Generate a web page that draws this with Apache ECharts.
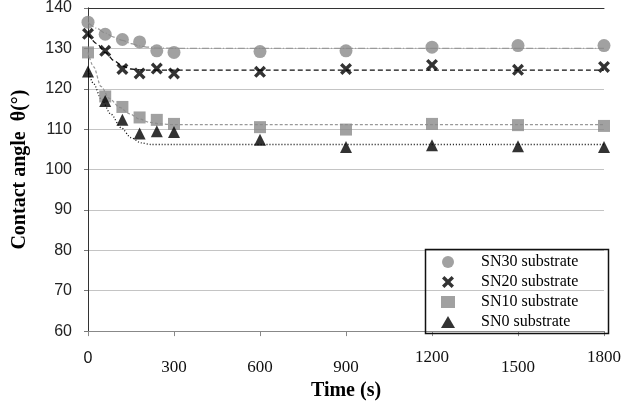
<!DOCTYPE html>
<html>
<head>
<meta charset="utf-8">
<script src="https://cdn.jsdelivr.net/npm/echarts@6/dist/echarts.min.js"></script>
<style>
html,body{margin:0;padding:0;background:#fff;}
#chart{width:624px;height:406px;}
</style>
</head>
<body>
<div id="chart"></div>
<script>
// Measured data (time in s, contact angle in degrees)
const times = [0, 60, 120, 180, 240, 300, 600, 900, 1200, 1500, 1800];
const sn30 = [136.5, 133.5, 132.2, 131.6, 129.4, 129.0, 129.2, 129.4, 130.3, 130.7, 130.7];
const sn20 = [133.6, 129.4, 124.9, 123.8, 125.0, 123.8, 124.2, 124.9, 125.9, 124.7, 125.4];
const sn10 = [129.0, 118.1, 115.5, 112.9, 112.3, 111.3, 110.5, 109.9, 111.3, 111.0, 110.8];
const sn0  = [124.3, 117.0, 112.3, 108.9, 109.5, 109.3, 107.4, 105.6, 106.0, 105.8, 105.6];

// Trend (fit) curves
const sn30TrendT = [0, 30, 60, 90, 120, 150, 180, 210, 240, 300, 1800];
const sn30Trend  = [136.4, 135.0, 133.8, 132.8, 132.0, 131.2, 130.6, 130.3, 130.1, 130.0, 130.0];
const sn20TrendT = [0, 30, 60, 90, 120, 150, 180, 210, 300, 1800];
const sn20Trend  = [133.6, 131.2, 129.0, 127.0, 125.6, 124.9, 124.7, 124.6, 124.6, 124.6];
const sn10TrendT = [0, 20, 45, 75, 110, 145, 180, 215, 250, 300, 1800];
const sn10Trend  = [129.0, 125.4, 120.6, 117.6, 115.4, 113.8, 112.5, 111.7, 111.3, 111.1, 111.1];
const sn0TrendT  = [0, 20, 45, 80, 115, 150, 185, 220, 260, 300, 1800];
const sn0Trend   = [124.5, 121.2, 117.6, 113.7, 110.4, 107.9, 106.6, 106.2, 106.2, 106.2, 106.2];

const seriesNames = ['SN30 substrate', 'SN20 substrate', 'SN10 substrate', 'SN0 substrate'];
const xTicks = [0, 300, 600, 900, 1200, 1500, 1800];
const yTicks = [60, 70, 80, 90, 100, 110, 120, 130, 140];

const pair = (xs, ys) => xs.map((x, i) => [x, ys[i]]);
const crossPath = 'path://M2,0 L5,3 L8,0 L10,2 L7,5 L10,8 L8,10 L5,7 L2,10 L0,8 L3,5 L0,2 Z';

const chart = echarts.init(document.getElementById('chart'), null, {renderer: 'canvas'});

function trend(data, color, dash, width) {
  return {
    type: 'line', data: data, showSymbol: false, symbol: 'none',
    smooth: 0.3, smoothMonotone: 'x', silent: true, z: 1,
    lineStyle: {color: color, type: dash, width: width}
  };
}

chart.setOption({
  animation: false,
  backgroundColor: '#fff',
  grid: {left: 88, right: 16, top: 6, bottom: 72},
  xAxis: [{
    type: 'value', min: xTicks[0], max: xTicks[xTicks.length - 1], interval: 300,
    name: 'Time (s)', nameLocation: 'middle', nameGap: 44,
    nameTextStyle: {fontFamily: 'Liberation Serif', fontWeight: 'bold', fontSize: 20, color: '#000'},
    axisLine: {lineStyle: {color: '#888', width: 1}},
    axisTick: {show: true, length: 5, lineStyle: {color: '#888'}},
    splitLine: {show: false},
    axisLabel: {
      margin: 10,
      formatter: function (v) {
        if (v === 0) return '{a|0}';
        if (v === 1200 || v === 1800) return '{c|' + v + '}';
        return '{b|' + v + '}';
      },
      rich: {
        a: {fontFamily: 'Liberation Sans', fontSize: 16, color: '#111', padding: [9, 0, 0, 0]},
        b: {fontFamily: 'Liberation Serif', fontSize: 17, color: '#111', padding: [18, 0, 0, 0]},
        c: {fontFamily: 'Liberation Serif', fontSize: 17, color: '#111', padding: [8, 0, 0, 0]}
      }
    }
  }, {
    type: 'value', position: 'top', min: 0, max: 1800,
    axisLine: {show: true, lineStyle: {color: '#333', width: 1}},
    axisTick: {show: false}, axisLabel: {show: false}, splitLine: {show: false}
  }],
  yAxis: [{
    type: 'value', min: yTicks[0], max: yTicks[yTicks.length - 1], interval: 10,
    name: 'Contact angle  θ(°)', nameLocation: 'middle', nameGap: 58,
    nameTextStyle: {fontFamily: 'Liberation Serif', fontWeight: 'bold', fontSize: 20, color: '#000'},
    axisLine: {show: true, lineStyle: {color: '#777', width: 1}},
    axisTick: {show: true, length: 4, lineStyle: {color: '#777'}},
    splitLine: {show: true, lineStyle: {color: '#c4c4c4', width: 1}},
    axisLabel: {margin: 16, fontFamily: 'Liberation Sans', fontSize: 16, color: '#222'}
  }, {
    type: 'value', position: 'right', min: 60, max: 140,
    axisLine: {show: true, lineStyle: {color: '#333', width: 1}},
    axisTick: {show: false}, axisLabel: {show: false}, splitLine: {show: false}
  }],
  legend: {
    orient: 'vertical', left: 441, top: 254,
    itemWidth: 14, itemHeight: 12, itemGap: 4, padding: 0,
    data: seriesNames,
    formatter: function (name) { return '{t|' + name + '}'; },
    textStyle: {
      fontFamily: 'Liberation Serif', fontSize: 16, color: '#000',
      rich: {t: {fontFamily: 'Liberation Serif', fontSize: 16, color: '#000', padding: [0, 0, 0, 21]}}
    }
  },
  graphic: [{
    type: 'rect', left: 423, top: 247, z: 100,
    shape: {width: 183, height: 84},
    style: {fill: 'none', stroke: '#111', lineWidth: 1.5}
  }],
  series: [
    trend(pair(sn30TrendT, sn30Trend), '#9a9a9a', [7, 2, 1, 2], 1.2),
    trend(pair(sn20TrendT, sn20Trend), '#111', [5, 3], 1.3),
    trend(pair(sn10TrendT, sn10Trend), '#999', [3, 2], 1.2),
    trend(pair(sn0TrendT, sn0Trend), '#111', [1, 2], 1.3),
    {name: seriesNames[0], type: 'scatter', data: pair(times, sn30), symbol: 'circle', symbolSize: 13,
     itemStyle: {color: '#8a8a8a'}, z: 3},
    {name: seriesNames[1], type: 'scatter', data: pair(times, sn20), symbol: crossPath, symbolSize: 12,
     itemStyle: {color: '#000'}, z: 3},
    {name: seriesNames[2], type: 'scatter', data: pair(times, sn10), symbol: 'rect', symbolSize: 12,
     itemStyle: {color: '#8a8a8a'}, z: 3},
    {name: seriesNames[3], type: 'scatter', data: pair(times, sn0), symbol: 'triangle', symbolSize: 12,
     itemStyle: {color: '#000'}, z: 3}
  ]
});
</script>
</body>
</html>
